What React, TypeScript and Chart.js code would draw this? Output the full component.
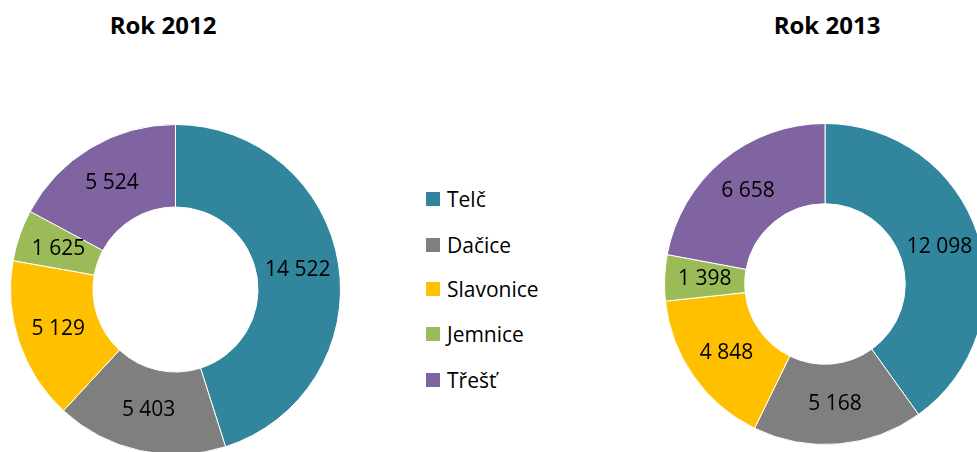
import React, { useEffect, useRef } from "react";
import { Chart, registerables } from "chart.js";
Chart.register(...registerables);

const categories = ["Telč", "Dačice", "Slavonice", "Jemnice", "Třešť"];
const values2012 = [14522, 5403, 5129, 1625, 5524];
const values2013 = [12098, 5168, 4848, 1398, 6658];
const colors = ["#31859C", "#7F7F7F", "#FFC000", "#9BBB59", "#8064A2"];
const titles = ["Rok 2012", "Rok 2013"];

const FONT = "'Open Sans', sans-serif";

const fmt = (v: number) => String(v).replace(/\B(?=(\d{3})+(?!\d))/g, " ");

const labelPlugin = {
  id: "sliceLabels",
  afterDatasetsDraw(chart: any) {
    const ctx = chart.ctx;
    const meta = chart.getDatasetMeta(0);
    const data = chart.data.datasets[0].data;
    ctx.save();
    ctx.font = `21px ${FONT}`;
    ctx.fillStyle = "#000";
    ctx.textAlign = "center";
    ctx.textBaseline = "middle";
    meta.data.forEach((arc: any, i: number) => {
      const p = arc.tooltipPosition(false);
      ctx.fillText(fmt(data[i]), p.x, p.y);
    });
    ctx.restore();
  },
};

function Donut({ values, left, top, size }: { values: number[]; left: number; top: number; size: number }) {
  const ref = useRef<HTMLCanvasElement>(null);
  useEffect(() => {
    const chart = new Chart(ref.current as HTMLCanvasElement, {
      type: "doughnut",
      data: {
        labels: categories,
        datasets: [{ data: values, backgroundColor: colors, borderColor: "#ffffff", borderWidth: 1 }],
      },
      options: {
        responsive: false,
        animation: false,
        cutout: "50%",
        layout: { padding: 0 },
        plugins: { legend: { display: false }, tooltip: { enabled: false }, title: { display: false } },
      },
      plugins: [labelPlugin],
    } as any);
    return () => chart.destroy();
  }, []);
  return (
    <canvas
      ref={ref}
      width={size}
      height={size}
      style={{ position: "absolute", left, top, width: size, height: size }}
    />
  );
}

export default function App() {
  const legendRows = [199, 245, 289, 334, 380];
  return (
    <div
      style={{
        position: "fixed",
        left: 0,
        top: 0,
        width: 977,
        height: 452,
        overflow: "hidden",
        background: "#fff",
        fontFamily: FONT,
      }}
    >
      <div style={{ position: "absolute", left: 63, top: 12, width: 200, textAlign: "center", fontSize: 24, lineHeight: "26px", fontWeight: 700, color: "#000" }}>
        {titles[0]}
      </div>
      <div style={{ position: "absolute", left: 727, top: 12, width: 200, textAlign: "center", fontSize: 24, lineHeight: "26px", fontWeight: 700, color: "#000" }}>
        {titles[1]}
      </div>
      <Donut values={values2012} left={10} top={124} size={331} />
      <Donut values={values2013} left={664} top={123} size={322} />
      {categories.map((c, i) => (
        <div key={c}>
          <div style={{ position: "absolute", left: 426, top: legendRows[i] - 7, width: 14, height: 14, background: colors[i] }} />
          <div style={{ position: "absolute", left: 447, top: legendRows[i] - 12, fontSize: 21, lineHeight: "24px", color: "#000", whiteSpace: "nowrap" }}>
            {c}
          </div>
        </div>
      ))}
    </div>
  );
}
